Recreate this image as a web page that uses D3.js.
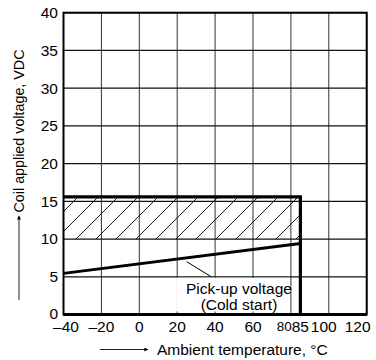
<!DOCTYPE html>
<html>
<head>
<meta charset="utf-8">
<script src="https://cdn.jsdelivr.net/npm/d3@7"></script>
<style>
  html, body { margin: 0; padding: 0; background: #fff; }
  svg { display: block; }
  text { font-family: "Liberation Sans", Arial, Helvetica, sans-serif; fill: #000; }
</style>
</head>
<body>
<svg id="chart" width="376" height="360"></svg>
<script>
// ---- data ----
const xDomain = [-40, 120];
const yDomain = [0, 40];
const xGridValues = [-40, -20, 0, 20, 40, 60, 80, 100, 120];
const yGridValues = [0, 5, 10, 15, 20, 25, 30, 35, 40];
const xTickValues = [-40, -20, 0, 20, 40, 60, 80, 85, 100, 120];
const xTickLabels = ["\u201340", "\u201320", "0", "20", "40", "60", "80", "85", "100", "120"];
const yTickLabels = ["0", "5", "10", "15", "20", "25", "30", "35", "40"];
// operating (hatched) region
const rangeTemp = [-40, 85];
const rangeVolt = [10, 15.6];
// pick-up voltage (cold start) line
const pickupTemp = [-40, 85];
const pickupVolt = [5.45, 9.4];
// annotation leader line and label anchor
const leaderTemp = [25, 38];
const leaderVolt = [7.0, 5.0];
const annotationTemp = 52.6;
const annotationBoxTemp = [20, 79.5];
const annotationLines = ["Pick-up voltage", "(Cold start)"];
const xTitle = "Ambient temperature, \u00B0C";
const yTitle = "Coil applied voltage, VDC";

// ---- layout ----
const W = 376, H = 360;
const m = { left: 63.5, right: 9.3, top: 12.7, bottom: 45.5 };
const svg = d3.select("#chart");
const x = d3.scaleLinear().domain(xDomain).range([m.left, W - m.right]);
const y = d3.scaleLinear().domain(yDomain).range([H - m.bottom, m.top]);

// defs: hatch pattern
const defs = svg.append("defs");
const pat = defs.append("pattern")
  .attr("id", "hatch").attr("patternUnits", "userSpaceOnUse")
  .attr("width", 20).attr("height", 20).attr("x", -5).attr("y", 0);
pat.append("path").attr("d", "M0,20 L20,0 M-2,2 L2,-2 M18,22 L22,18")
  .attr("stroke", "#000").attr("stroke-width", 0.9).attr("fill", "none");

// grid
const grid = svg.append("g");
grid.selectAll("line.v").data(xGridValues).join("line").attr("class", "v")
  .attr("x1", d => x(d)).attr("x2", d => x(d))
  .attr("y1", y(yDomain[0])).attr("y2", y(yDomain[1]))
  .attr("stroke", "#333").attr("stroke-width", 1);
grid.selectAll("line.h").data(yGridValues).join("line").attr("class", "h")
  .attr("x1", x(xDomain[0])).attr("x2", x(xDomain[1]))
  .attr("y1", d => y(d)).attr("y2", d => y(d))
  .attr("stroke", "#111").attr("stroke-width", 1.2);

// hatched operating region
svg.append("rect")
  .attr("x", x(rangeTemp[0])).attr("y", y(rangeVolt[1]))
  .attr("width", x(rangeTemp[1]) - x(rangeTemp[0]))
  .attr("height", y(rangeVolt[0]) - y(rangeVolt[1]))
  .attr("fill", "url(#hatch)");

// annotation white box behind label
const boxX0 = x(annotationBoxTemp[0]) - 1, boxX1 = x(annotationBoxTemp[1]);
svg.append("rect")
  .attr("x", boxX0).attr("y", y(5) + 1)
  .attr("width", boxX1 - boxX0).attr("height", y(0) - y(5) - 4)
  .attr("fill", "#fff");

// frame
svg.append("rect")
  .attr("x", x(xDomain[0])).attr("y", y(yDomain[1]))
  .attr("width", x(xDomain[1]) - x(xDomain[0]))
  .attr("height", y(yDomain[0]) - y(yDomain[1]))
  .attr("fill", "none").attr("stroke", "#000").attr("stroke-width", 2);
svg.append("line")
  .attr("x1", x(xDomain[0])).attr("x2", x(xDomain[1]))
  .attr("y1", y(0)).attr("y2", y(0))
  .attr("stroke", "#000").attr("stroke-width", 2.8);

// thick operating boundary
const lineGen = d3.line().x(d => x(d[0])).y(d => y(d[1]));
svg.append("path")
  .attr("d", lineGen([[rangeTemp[0], rangeVolt[1]], [rangeTemp[1], rangeVolt[1]], [rangeTemp[1], yDomain[0]]]))
  .attr("fill", "none").attr("stroke", "#000").attr("stroke-width", 3.2)
  .attr("stroke-linejoin", "miter");

// pick-up voltage line
svg.append("path")
  .attr("d", lineGen(pickupTemp.map((t, i) => [t, pickupVolt[i]])))
  .attr("fill", "none").attr("stroke", "#000").attr("stroke-width", 3);

// leader
svg.append("path")
  .attr("d", lineGen(leaderTemp.map((t, i) => [t, leaderVolt[i]])))
  .attr("fill", "none").attr("stroke", "#000").attr("stroke-width", 1);

// annotation text
const annCx = x(annotationTemp);
svg.append("text").attr("x", annCx).attr("y", y(5) + 17)
  .attr("text-anchor", "middle").attr("font-size", 15.5).text(annotationLines[0]);
svg.append("text").attr("x", annCx).attr("y", y(5) + 33.5)
  .attr("text-anchor", "middle").attr("font-size", 15.5).text(annotationLines[1]);

// y tick labels
svg.append("g").selectAll("text").data(yGridValues).join("text")
  .attr("x", m.left - 5.5).attr("y", d => y(d)).attr("dy", d => d === 0 ? "0.28em" : "0.35em")
  .attr("text-anchor", "end").attr("font-size", 15.5)
  .text((d, i) => yTickLabels[i]);

// x tick labels
const xLabelShift = v => v === xDomain[0] ? 2.5 : (v === 100 ? -5 : (v === xDomain[1] ? -9 : 0));
svg.append("g").selectAll("text").data(xTickValues).join("text")
  .attr("x", d => d === 80 ? x(85) - 8.6 : x(d) + xLabelShift(d))
  .attr("y", d => d === 80 ? H - m.bottom + 16 : H - m.bottom + 17.5)
  .attr("text-anchor", d => d === 80 ? "end" : "middle")
  .attr("font-size", d => d === 80 ? 13.5 : 15.5)
  .text((d, i) => xTickLabels[i]);

// axis titles with arrows
defs.append("marker").attr("id", "arr").attr("viewBox", "0 0 10 10")
  .attr("refX", 9).attr("refY", 5).attr("markerWidth", 6).attr("markerHeight", 4)
  .attr("markerUnits", "userSpaceOnUse").attr("orient", "auto")
  .append("path").attr("d", "M0,0 L10,5 L0,10 Z").attr("fill", "#000");

svg.append("line").attr("x1", 100).attr("x2", 148).attr("y1", 349.5).attr("y2", 349.5)
  .attr("stroke", "#222").attr("stroke-width", 1).attr("marker-end", "url(#arr)");
svg.append("text").attr("x", 157).attr("y", 355).attr("font-size", 15.5).text(xTitle);

svg.append("line").attr("x1", 19).attr("x2", 19).attr("y1", 300).attr("y2", 216)
  .attr("stroke", "#222").attr("stroke-width", 1).attr("marker-end", "url(#arr)");
svg.append("text").attr("transform", "translate(24,131) rotate(-90)")
  .attr("text-anchor", "middle").attr("font-size", 14.3).text(yTitle);
</script>
</body>
</html>
